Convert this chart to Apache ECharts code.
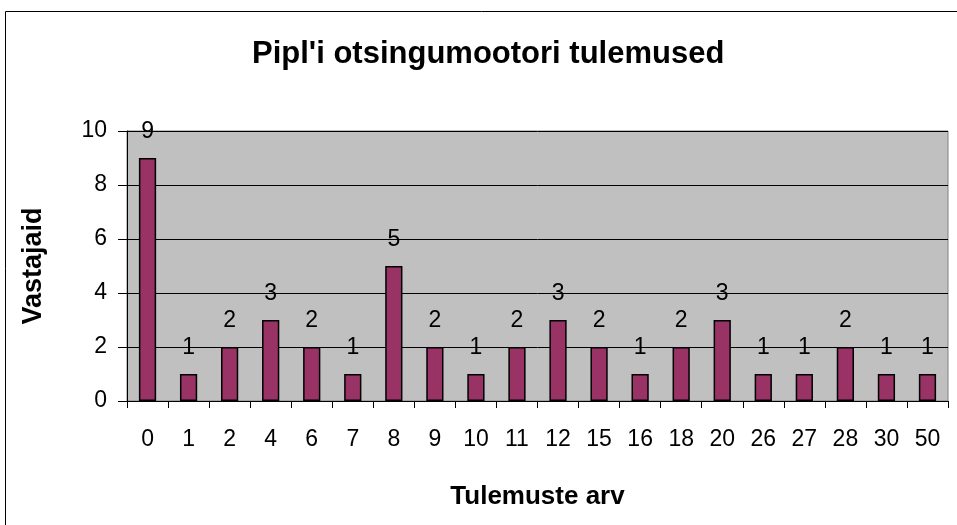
<!DOCTYPE html>
<html>
<head>
<meta charset="utf-8">
<script src="https://cdn.jsdelivr.net/npm/echarts@6/dist/echarts.min.js"></script>
<style>
html, body { margin: 0; padding: 0; background: #fff; }
#chartmain { width: 957px; height: 525px; }
</style>
</head>
<body>
<div id="chartmain"></div>
<script>
// andmed
var categories = ['0', '1', '2', '4', '6', '7', '8', '9', '10', '11', '12', '15', '16', '18', '20', '26', '27', '28', '30', '50'];
var values = [9, 1, 2, 3, 2, 1, 5, 2, 1, 2, 3, 2, 1, 2, 3, 1, 1, 2, 1, 1];

var myChart = echarts.init(document.getElementById('chartmain'));
var font = 'Liberation Sans, Arial, sans-serif';
var option = {
    backgroundColor: '#FFFFFF',
    animation: false,
    graphic: [{
        type: 'rect',
        shape: {x: 5.5, y: 11.5, width: 960, height: 530},
        style: {fill: 'none', stroke: '#000', lineWidth: 1}
    }],
    title: {
        left: 247,
        top: 34,
        text: "Pipl'i otsingumootori tulemused",
        textStyle: {
            fontFamily: font,
            fontSize: 31,
            fontWeight: 'bold',
            color: '#000'
        }
    },
    grid: {
        left: 127,
        right: 9,
        top: 131,
        bottom: 124,
        show: true,
        backgroundColor: '#C0C0C0',
        borderColor: '#808080',
        borderWidth: 1
    },
    xAxis: [{
        type: 'category',
        data: categories,
        name: 'Tulemuste arv',
        nameLocation: 'middle',
        nameGap: 83,
        nameTextStyle: {fontFamily: font, fontSize: 26, fontWeight: 'bold', color: '#000'},
        axisLine: {lineStyle: {color: '#000'}},
        axisTick: {show: true, length: 7, lineStyle: {color: '#000'}},
        axisLabel: {fontFamily: font, fontSize: 23, color: '#000', margin: 27}
    }],
    yAxis: [{
        type: 'value',
        min: 0,
        max: 10,
        interval: 2,
        name: 'Vastajaid',
        nameLocation: 'middle',
        nameGap: 80,
        nameTextStyle: {fontFamily: font, fontSize: 27, fontWeight: 'bold', color: '#000'},
        axisLine: {show: true, lineStyle: {color: '#000'}},
        axisTick: {show: true, length: 9, lineStyle: {color: '#000'}},
        axisLabel: {fontFamily: font, fontSize: 23, color: '#000', margin: 20},
        splitLine: {show: true, lineStyle: {color: '#000', width: 1}}
    }],
    series: [{
        name: 'Vastajaid',
        type: 'bar',
        barCategoryGap: '58%',
        itemStyle: {
            color: '#993366',
            borderColor: '#000',
            borderWidth: 1.5
        },
        label: {
            show: true,
            position: 'top',
            distance: 15,
            fontFamily: font,
            fontSize: 23,
            color: '#000'
        },
        data: values
    }]
};
myChart.setOption(option);
</script>
</body>
</html>
